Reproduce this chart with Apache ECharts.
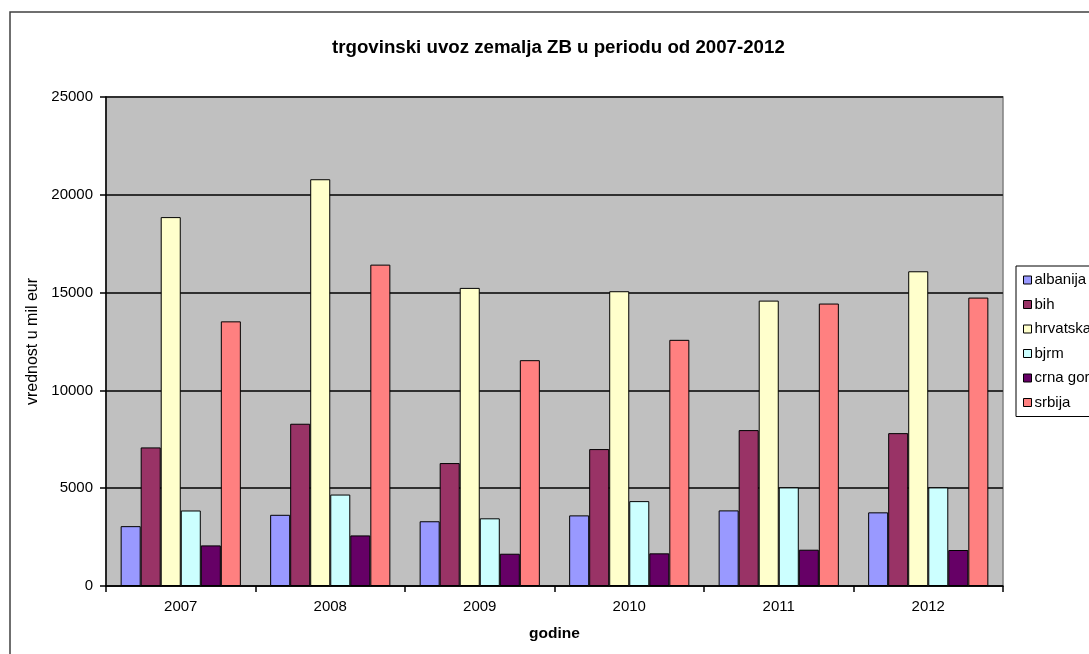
<!DOCTYPE html>
<html>
<head>
<meta charset="utf-8">
<script src="https://cdn.jsdelivr.net/npm/echarts@6/dist/echarts.min.js"></script>
<style>
  html, body { margin: 0; padding: 0; background: #fff; }
  #chart { width: 1089px; height: 654px; }
</style>
</head>
<body>
<div id="chart"></div>
<script>
// Import values (mil eur) per country, 2007-2012
const years = ['2007', '2008', '2009', '2010', '2011', '2012'];
const countries = ['albanija', 'bih', 'hrvatska', 'bjrm', 'crna gora', 'srbija'];
const albanija = [3060, 3640, 3310, 3610, 3865, 3765];
const bih      = [7085, 8295, 6285, 7000, 7970, 7815];
const hrvatska = [18860, 20795, 15240, 15070, 14590, 16090];
const bjrm     = [3860, 4675, 3460, 4340, 5040, 5040];
const crnaGora = [2075, 2585, 1650, 1670, 1855, 1840];
const srbija   = [13530, 16430, 11545, 12585, 14440, 14745];
const yTicks = { min: 0, max: 25000, interval: 5000 };

const seriesValues = [albanija, bih, hrvatska, bjrm, crnaGora, srbija];
const colors = ['#9999FF', '#993366', '#FFFFCC', '#CCFFFF', '#660066', '#FF8080'];
const font = 'Liberation Sans, Arial, sans-serif';

const chart = echarts.init(document.getElementById('chart'), null, { renderer: 'canvas' });

chart.setOption({
  animation: false,
  backgroundColor: '#ffffff',
  textStyle: { fontFamily: font, color: '#000' },
  title: {
    text: 'trgovinski uvoz zemalja ZB u periodu od 2007-2012',
    left: 327,
    top: 33,
    textStyle: { fontFamily: font, fontSize: 18.7, fontWeight: 'bold', color: '#000' }
  },
  graphic: [{
    type: 'rect',
    shape: { x: 10, y: 12, width: 1200, height: 700 },
    style: { fill: 'none', stroke: '#404040', lineWidth: 1.5 },
    silent: true,
    z: -1
  }],
  legend: {
    orient: 'vertical',
    left: 1016,
    top: 266,
    padding: [6, 20, 6, 7],
    itemGap: 8.5,
    itemWidth: 8,
    itemHeight: 8,
    icon: 'rect',
    borderColor: '#000',
    borderWidth: 1,
    backgroundColor: '#fff',
    itemStyle: { borderColor: '#000', borderWidth: 1 },
    textStyle: { fontFamily: font, fontSize: 15, color: '#000', lineHeight: 16, padding: [0, 0, 0, -2] },
    data: countries
  },
  grid: {
    show: true,
    left: 106,
    top: 97,
    right: 86,
    bottom: 68,
    backgroundColor: '#C0C0C0',
    borderColor: '#808080',
    borderWidth: 1.5
  },
  xAxis: {
    type: 'category',
    data: years,
    name: 'godine',
    nameLocation: 'middle',
    nameGap: 40,
    nameTextStyle: { fontFamily: font, fontSize: 15.5, fontWeight: 'bold', color: '#000' },
    axisLine: { lineStyle: { color: '#000', width: 1.5 } },
    axisTick: { show: true, length: 6, lineStyle: { color: '#000', width: 1.5 } },
    axisLabel: { margin: 13, fontFamily: font, fontSize: 15, color: '#000' },
    splitLine: { show: false }
  },
  yAxis: {
    type: 'value',
    min: yTicks.min,
    max: yTicks.max,
    interval: yTicks.interval,
    name: 'vrednost u mil eur',
    nameLocation: 'middle',
    nameGap: 62,
    nameTextStyle: { fontFamily: font, fontSize: 16, color: '#000' },
    axisLine: { show: true, lineStyle: { color: '#000', width: 1.5 } },
    axisTick: { show: true, length: 6, lineStyle: { color: '#000', width: 1.5 } },
    axisLabel: { margin: 13, fontFamily: font, fontSize: 15, color: '#000', formatter: v => String(v) },
    splitLine: { show: true, lineStyle: { color: '#303030', width: 2 } }
  },
  series: countries.map((name, i) => ({
    name: name,
    type: 'bar',
    data: seriesValues[i],
    barGap: '0%',
    barCategoryGap: '19.6%',
    itemStyle: { color: colors[i], borderColor: '#000', borderWidth: 1 }
  }))
});
</script>
</body>
</html>
